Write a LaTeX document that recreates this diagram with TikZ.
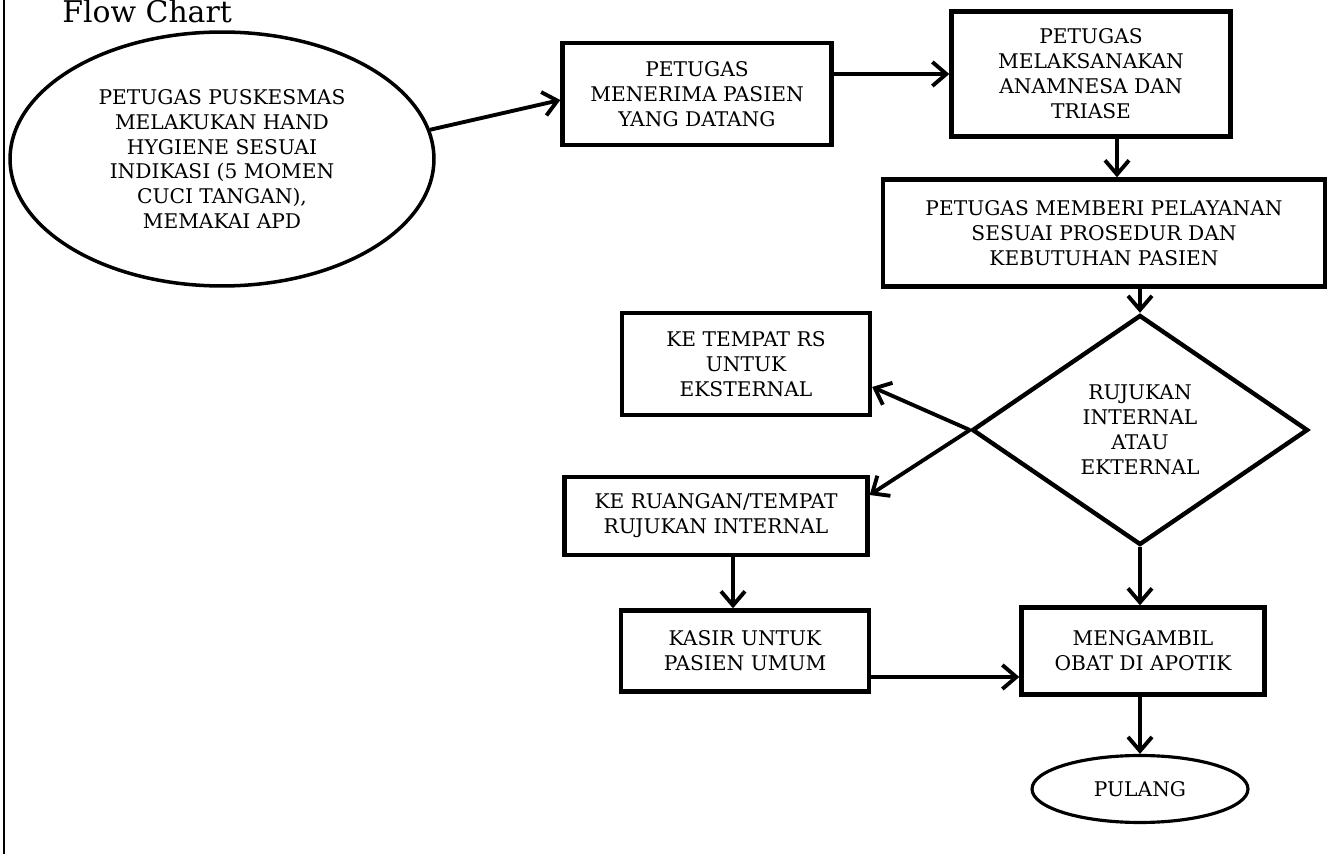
\documentclass[tikz,border=0pt]{standalone}
\usepackage{fontspec}
\setmainfont{DejaVu Serif}
\usetikzlibrary{shapes.geometric, arrows.meta}

\begin{document}
\begin{tikzpicture}[x=0.02cm, y=-0.02cm,
  >={Straight Barb[length=2.8mm, width=4.8mm]},
  font=\fontsize{11.5}{14.2}\selectfont,
  box/.style={draw, line width=2.5pt, align=center, inner sep=2pt},
  oval/.style={draw, ellipse, line width=2pt, align=center, inner sep=0pt},
  decide/.style={draw, diamond, line width=2.5pt, align=center, inner sep=0pt},
  flow/.style={->, line width=2.2pt}]
  % page and left frame line
  \useasboundingbox (0,0) rectangle (1333,854);
  \clip (0,0) rectangle (1333,854);
  \draw[line width=1pt] (4,0) -- (4,854);
  \node[anchor=base west, inner sep=0pt, font=\fontsize{17}{20}\selectfont] (title) at (62,23) {Flow Chart};
  % start
  \node[oval, minimum width=8.48cm, minimum height=5.08cm] (mulai) at (222,159)
    {PETUGAS PUSKESMAS\\MELAKUKAN HAND\\HYGIENE SESUAI\\INDIKASI (5 MOMEN\\CUCI TANGAN),\\MEMAKAI APD};
  % main column
  \node[box, minimum width=5.38cm, minimum height=2.04cm] (terima) at (697,94)
    {PETUGAS\\MENERIMA PASIEN\\YANG DATANG};
  \node[box, minimum width=5.58cm, minimum height=2.5cm] (anamnesa) at (1091,74)
    {PETUGAS\\MELAKSANAKAN\\ANAMNESA DAN\\TRIASE};
  \node[box, minimum width=8.84cm, minimum height=2.14cm] (layanan) at (1104,233)
    {PETUGAS MEMBERI PELAYANAN\\SESUAI PROSEDUR DAN\\KEBUTUHAN PASIEN};
  \node[decide, minimum width=6.72cm, minimum height=4.6cm] (rujuk) at (1140,430)
    {RUJUKAN\\INTERNAL\\ATAU\\EKTERNAL};
  % referral branches
  \node[box, minimum width=4.96cm, minimum height=2.04cm] (rs) at (746,364)
    {KE TEMPAT RS\\UNTUK\\EKSTERNAL};
  \node[box, minimum width=6.06cm, minimum height=1.56cm] (ruang) at (716,516)
    {KE RUANGAN/TEMPAT\\RUJUKAN INTERNAL};
  \node[box, minimum width=4.96cm, minimum height=1.62cm] (kasir) at (745,651)
    {KASIR UNTUK\\PASIEN UMUM};
  \node[box, minimum width=4.86cm, minimum height=1.74cm] (apotik) at (1143,651)
    {MENGAMBIL\\OBAT DI APOTIK};
  \node[oval, line width=1.8pt, minimum width=4.32cm, minimum height=1.34cm] (pulang) at (1140,789)
    {PULANG};
  % connectors
  \draw[flow] (mulai.8) -- ([yshift=-1.2mm]terima.west);
  \draw[flow] (terima.east |- anamnesa.west) -- (anamnesa.west);
  \draw[flow] ([xshift=5.2mm]anamnesa.south) -- ([xshift=5.2mm]anamnesa.south |- layanan.north);
  \draw[flow] (layanan.south -| rujuk.north) -- (rujuk.north);
  \draw[flow] (rujuk.west) -- ([yshift=-4.6mm]rs.east);
  \draw[flow] (rujuk.west) -- ([yshift=4.2mm]ruang.east);
  \draw[flow] ([xshift=3.4mm]ruang.south) -- ([xshift=3.4mm]ruang.south |- kasir.north);
  \draw[flow] ([yshift=-5.2mm]kasir.east) -- ([yshift=-5.2mm]kasir.east -| apotik.west);
  \draw[flow] (rujuk.south) -- (rujuk.south |- apotik.north);
  \draw[flow] (apotik.south -| pulang.north) -- (pulang.north);
\end{tikzpicture}
\end{document}
